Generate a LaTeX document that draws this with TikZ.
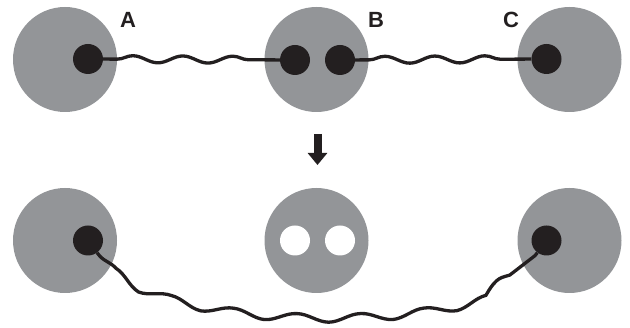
\documentclass[tikz,border=0pt]{standalone}
\usepackage{fontspec}
\setmainfont{Liberation Sans}
\usepackage{xcolor}
\usepackage{tikz}
\usetikzlibrary{
	arrows.meta,shapes,decorations.pathmorphing
}
\definecolor{cellgray}{HTML}{939598}
\definecolor{ink}{HTML}{231F20}
\tikzset{
	cell/.style={ellipse,fill=cellgray,minimum width=104pt,minimum height=105pt,inner sep=0pt},
	spot/.style={circle,fill=ink,minimum size=30pt,inner sep=0pt},
	hole/.style={circle,fill=white,minimum size=30pt,inner sep=0pt},
	tag/.style={font=\fontsize{22}{22}\selectfont\bfseries,text=ink},
	wire/.style={draw=ink,line width=3.3pt,decorate}
}

\begin{document}
\begin{tikzpicture}[x=1pt,y=-1pt]
		\useasboundingbox (0,0) rectangle (630,328);
		% top row
		\node[cell] (A) at (65,59.5) {};
		\node[cell] (B) at (316.5,59.5) {};
		\node[cell] (C) at (569.5,59.5) {};
		\node[spot] (a) at (88,59) {};
		\node[spot] (b) at (295,60) {};
		\node[spot] (b') at (340,60) {};
		\node[spot] (c) at (546.5,59) {};
		\node[tag] (lA) at (128,20) {A};
		\node[tag] (lB) at (376,20) {B};
		\node[tag] (lC) at (511,20) {C};
		%
		\coordinate (top) at (317.5,134);
		\coordinate (bot) at (317.5,165);
		\draw[ink,line width=8pt,-{Triangle[width=19pt,length=12pt]}] (top) -- (bot);
		% bottom row
		\node[cell] (A') at (65,240.5) {};
		\node[cell] (B') at (316.5,240.5) {};
		\node[cell] (C') at (569.5,240.5) {};
		\node[hole] (h) at (295,240.5) {};
		\node[hole] (h') at (340,240.5) {};
		\node[spot] (a') at (88,240.5) {};
		\node[spot] (c') at (546.5,240.5) {};
		%
		\path[decoration={snake,segment length=50pt,amplitude=3.5pt,pre length=14pt,post length=14pt}]
		(a) edge[wire] (b)
		(b') edge[wire] (c);
		\draw[wire,decoration={snake,segment length=64pt,amplitude=4pt,pre length=4pt,post length=4pt}]
		(a') .. controls (150,324) and (484,324) .. (c');
	\end{tikzpicture}
\end{document}
